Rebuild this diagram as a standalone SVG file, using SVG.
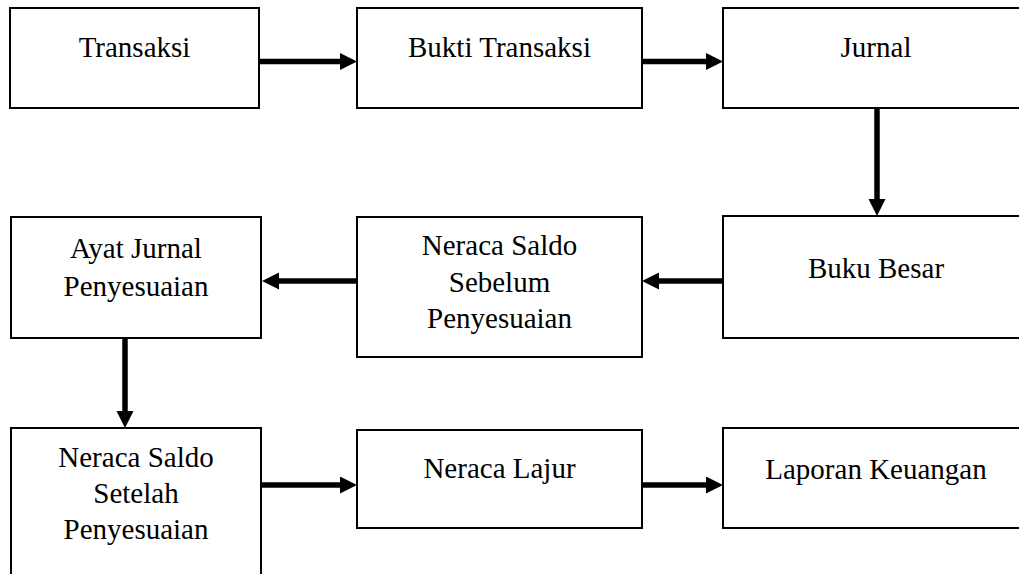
<svg xmlns="http://www.w3.org/2000/svg" width="1019" height="574" viewBox="0 0 1019 574">
  <style>
    .box { fill: #ffffff; stroke: #000000; stroke-width: 2; }
    .lbl { font-family: 'Liberation Serif', 'Tinos', 'DejaVu Serif', serif; font-size: 29px; fill: #000000; text-anchor: middle; }
    .arrow { stroke: #000000; stroke-width: 5.5; fill: none; marker-end: url(#head); }
  </style>
  <defs>
    <marker id="head" markerUnits="userSpaceOnUse" markerWidth="18" markerHeight="18" refX="1" refY="8.5" orient="auto">
      <path d="M0,0 L17,8.5 L0,17 Z" fill="#000000"/>
    </marker>
  </defs>
  <rect width="1019" height="574" fill="#ffffff"/>

  <!-- Row 1 -->
  <g id="transaksi">
    <rect class="box" x="10" y="8" width="249" height="100"/>
    <text class="lbl" x="134.5" y="57">Transaksi</text>
  </g>
  <g id="bukti-transaksi">
    <rect class="box" x="357" y="8" width="285" height="100"/>
    <text class="lbl" x="499.5" y="57">Bukti Transaksi</text>
  </g>
  <g id="jurnal">
    <rect class="box" x="723" y="8" width="306" height="100"/>
    <text class="lbl" x="876" y="57">Jurnal</text>
  </g>

  <!-- Row 2 -->
  <g id="buku-besar">
    <rect class="box" x="723" y="216" width="306" height="122"/>
    <text class="lbl" x="876" y="278">Buku Besar</text>
  </g>
  <g id="neraca-saldo-sebelum">
    <rect class="box" x="357" y="217" width="285" height="140"/>
    <text class="lbl" x="499.5" y="255">Neraca Saldo</text>
    <text class="lbl" x="499.5" y="292">Sebelum</text>
    <text class="lbl" x="499.5" y="328">Penyesuaian</text>
  </g>
  <g id="ayat-jurnal-penyesuaian">
    <rect class="box" x="11" y="217" width="250" height="121"/>
    <text class="lbl" x="136" y="258">Ayat Jurnal</text>
    <text class="lbl" x="136" y="296">Penyesuaian</text>
  </g>

  <!-- Row 3 -->
  <g id="neraca-saldo-setelah">
    <rect class="box" x="11" y="428" width="250" height="160"/>
    <text class="lbl" x="136" y="467">Neraca Saldo</text>
    <text class="lbl" x="136" y="503">Setelah</text>
    <text class="lbl" x="136" y="539">Penyesuaian</text>
  </g>
  <g id="neraca-lajur">
    <rect class="box" x="357" y="430" width="285" height="98"/>
    <text class="lbl" x="499.5" y="478">Neraca Lajur</text>
  </g>
  <g id="laporan-keuangan">
    <rect class="box" x="723" y="428" width="306" height="100"/>
    <text class="lbl" x="876" y="479">Laporan Keuangan</text>
  </g>

  <!-- Connectors: each line stops 16px short of the tip, the marker completes it -->
  <g id="connectors">
    <line class="arrow" x1="260" y1="61.5" x2="341" y2="61.5"/>
    <line class="arrow" x1="643" y1="61.5" x2="707" y2="61.5"/>
    <line class="arrow" x1="877" y1="109" x2="877" y2="200"/>
    <line class="arrow" x1="722" y1="281" x2="658" y2="281"/>
    <line class="arrow" x1="356" y1="281" x2="278" y2="281"/>
    <line class="arrow" x1="125" y1="339" x2="125" y2="412"/>
    <line class="arrow" x1="262" y1="485" x2="341" y2="485"/>
    <line class="arrow" x1="643" y1="485" x2="707" y2="485"/>
  </g>
</svg>
